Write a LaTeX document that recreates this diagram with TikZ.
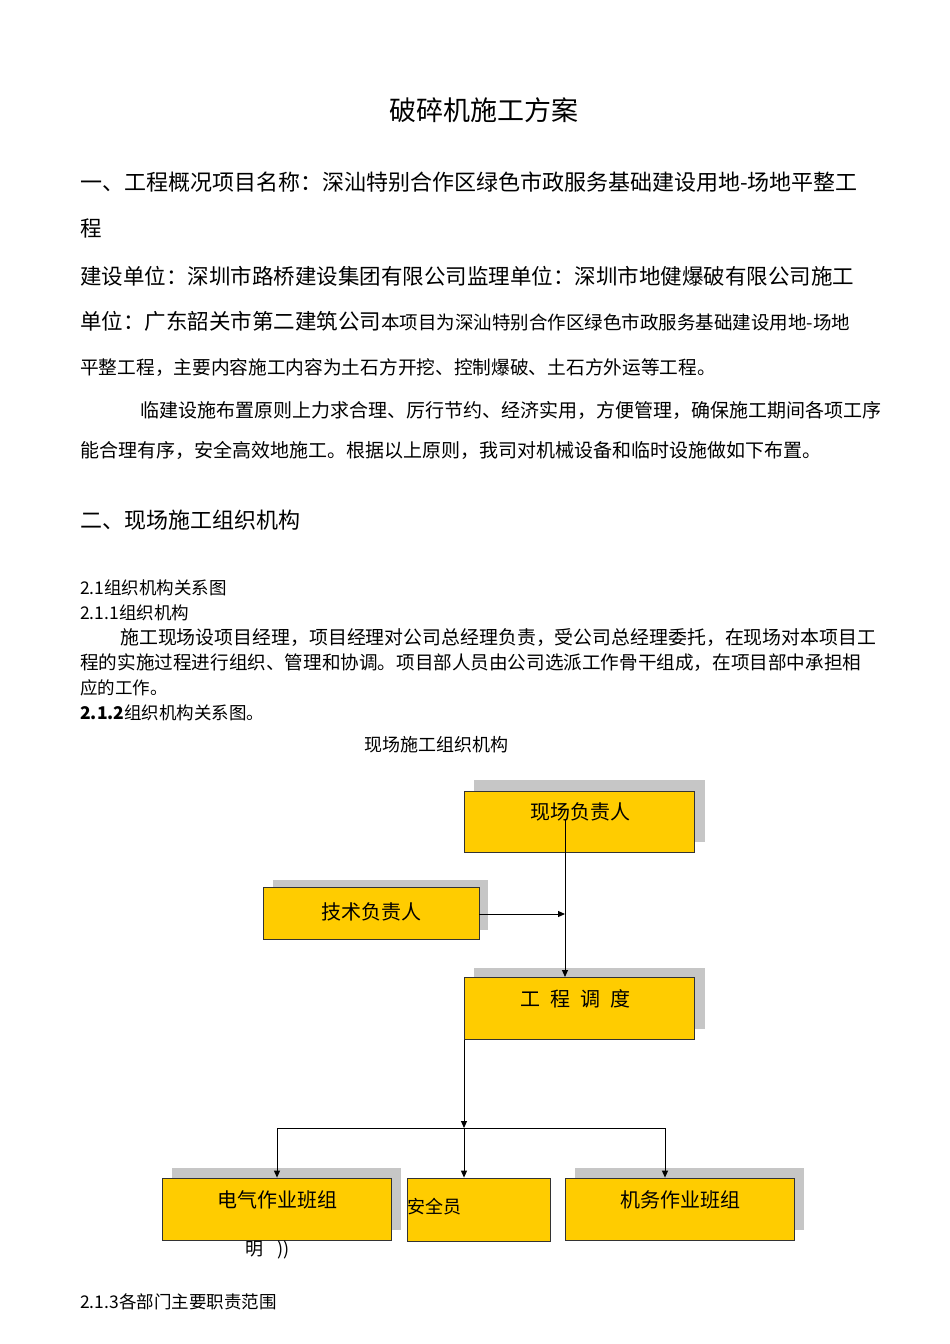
\documentclass[tikz,border=0pt]{standalone}
\usepackage{fontspec}
\setmainfont{Noto Sans CJK SC}
\usetikzlibrary{arrows.meta}
\tikzset{
 txt/.style={anchor=west,inner sep=0pt},
 ybox/.style={draw=black!80,fill=orgY,line width=0.8pt,inner sep=0pt},
 shad/.style={fill=gray!45,draw=none},
 con/.style={line width=1pt},
 arr/.style={con,-{Triangle[length=7pt,width=6pt]}}
}
\definecolor{orgY}{HTML}{FFCC00}
\begin{document}
\begin{tikzpicture}[x=1pt,y=-1pt]
\useasboundingbox (0,0) rectangle (950,1344);
\fill[white] (0,0) rectangle (950,1344);
% text
\node[inner sep=0pt,font=\fontsize{27}{27}\selectfont] (title) at (484,110) {破碎机施工方案};
\node[txt,font=\fontsize{22}{22}\selectfont] (l1) at (80,182) {一、工程概况项目名称：深汕特别合作区绿色市政服务基础建设用地-场地平整工};
\node[txt,font=\fontsize{21.5}{22}\selectfont] (l2) at (80,228) {程};
\node[txt,font=\fontsize{21.5}{22}\selectfont] (l3) at (80,276) {建设单位：深圳市路桥建设集团有限公司监理单位：深圳市地健爆破有限公司施工};
\node[txt] (l4) at (80,321) {\fontsize{21.5}{22}\selectfont 单位：广东韶关市第二建筑公司\fontsize{18.5}{20}\selectfont 本项目为深汕特别合作区绿色市政服务基础建设用地-场地};
\node[txt,font=\fontsize{18.7}{20}\selectfont] (l5) at (80,368) {平整工程，主要内容施工内容为土石方开挖、控制爆破、土石方外运等工程。};
\node[txt,font=\fontsize{19}{20}\selectfont] (l6) at (140,410) {临建设施布置原则上力求合理、厉行节约、经济实用，方便管理，确保施工期间各项工序};
\node[txt,font=\fontsize{19}{20}\selectfont] (l7) at (80,450) {能合理有序，安全高效地施工。根据以上原则，我司对机械设备和临时设施做如下布置。};
\node[txt,font=\fontsize{22}{22}\selectfont] (h2) at (80,520) {二、现场施工组织机构};
\node[txt,font=\fontsize{17.5}{18}\selectfont] (s1) at (80,588) {2.1组织机构关系图};
\node[txt,font=\fontsize{17.5}{18}\selectfont] (s2) at (80,613) {2.1.1组织机构};
\node[txt,font=\fontsize{18.9}{19}\selectfont] (p1) at (120,638) {施工现场设项目经理，项目经理对公司总经理负责，受公司总经理委托，在现场对本项目工};
\node[txt,font=\fontsize{18.6}{19}\selectfont] (p2) at (80,663) {程的实施过程进行组织、管理和协调。项目部人员由公司选派工作骨干组成，在项目部中承担相};
\node[txt,font=\fontsize{17.5}{18}\selectfont] (p3) at (80,688) {应的工作。};
\node[txt,font=\fontsize{17.5}{18}\selectfont] (s3) at (80,713) {\textbf{2.1.2}组织机构关系图。};
\node[inner sep=0pt,font=\fontsize{18}{18}\selectfont] (ct) at (436,745) {现场施工组织机构};
% shadows
\fill[shad] (474,780) rectangle (705,842);
\fill[shad] (273,880) rectangle (488,930);
\fill[shad] (474,968) rectangle (705,1029);
\fill[shad] (172,1168) rectangle (401,1230);
\fill[shad] (575,1168) rectangle (804,1230);
% boxes
\node[ybox,minimum width=230pt,minimum height=61pt] (xc) at (579,821.5) {};
\node[inner sep=0pt,font=\fontsize{20}{20}\selectfont] (xct) at (580,812) {现场负责人};
\node[ybox,minimum width=216pt,minimum height=52pt] (js) at (371,913) {};
\node[inner sep=0pt,font=\fontsize{20}{20}\selectfont] (jst) at (371,912) {技术负责人};
\node[ybox,minimum width=230pt,minimum height=62pt] (gc) at (579,1008) {};
\node[inner sep=0pt,font=\fontsize{20}{20}\selectfont] (gct) at (575,999) {工\hspace{0.5em}程\hspace{0.5em}调\hspace{0.5em}度};
\node[ybox,minimum width=229pt,minimum height=62pt] (dq) at (276.5,1209) {};
\node[inner sep=0pt,font=\fontsize{20}{20}\selectfont] (dqt) at (277,1200) {电气作业班组};
\node[ybox,minimum width=143pt,minimum height=63pt] (aq) at (478.5,1209.5) {};
\node[txt,font=\fontsize{18}{18}\selectfont] (aqt) at (407,1207) {安全员};
\node[ybox,minimum width=229pt,minimum height=62pt] (jw) at (679.5,1209) {};
\node[inner sep=0pt,font=\fontsize{20}{20}\selectfont] (jwt) at (680,1200) {机务作业班组};
\node[txt,font=\fontsize{18}{18}\selectfont] (ming) at (245,1250) {明\hspace{0.8em}))};
\node[txt,font=\fontsize{17.5}{18}\selectfont] (s4) at (80,1302) {2.1.3各部门主要职责范围};
% connectors
\coordinate (top) at (565,820);
\coordinate (mid) at (565,914);
\coordinate (gcin) at (565,977);
\coordinate (gcout) at (464,1040);
\coordinate (jn) at (464,1128);
\coordinate (jl) at (277,1128);
\coordinate (jr) at (665,1128);
\draw[arr] (top) -- (gcin);
\draw[arr] (js.east |- mid) -- (mid);
\draw[arr] (gcout) -- (jn);
\draw[con] (jl) -- (jr);
\draw[arr] (jl) -- (jl |- dq.north);
\draw[arr] (jn) -- (jn |- aq.north);
\draw[arr] (jr) -- (jr |- jw.north);
\end{tikzpicture}
\end{document}
